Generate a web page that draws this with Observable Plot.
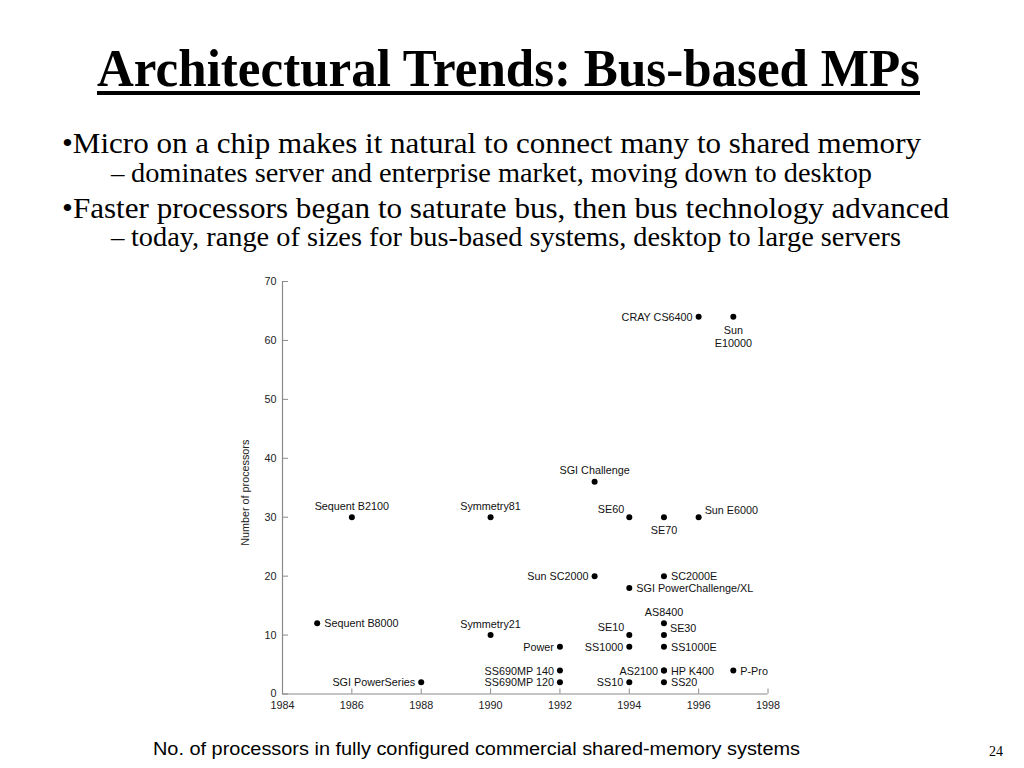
<!DOCTYPE html>
<html>
<head>
<meta charset="utf-8">
<script src="https://cdn.jsdelivr.net/npm/d3@7"></script>
<script src="https://cdn.jsdelivr.net/npm/@observablehq/plot@0.6"></script>
<style>
  html, body { margin: 0; padding: 0; background: #fff; }
  #page { position: relative; width: 1024px; height: 768px; overflow: hidden; background: #fff; }
  #overlay { position: absolute; left: 0; top: 0; }
  #chart { position: absolute; left: 0; top: 270px; }
  .serif { font-family: 'Liberation Serif', 'Times New Roman', Times, serif; }
  .sans { font-family: 'Liberation Sans', Arial, Helvetica, sans-serif; }
</style>
</head>
<body>
<div id="page">
  <svg id="overlay" width="1024" height="768" xmlns="http://www.w3.org/2000/svg">
    <text class="serif" x="97" y="86" font-weight="bold" font-size="52" textLength="823" lengthAdjust="spacingAndGlyphs">Architectural Trends: Bus-based MPs</text>
    <rect x="97" y="91" width="823" height="4" fill="#000"></rect>
    <text class="serif" x="62" y="152.5" font-size="30" textLength="859" lengthAdjust="spacingAndGlyphs">•Micro on a chip makes it natural to connect many to shared memory</text>
    <text class="serif" x="111" y="182" font-size="27">–</text>
    <text class="serif" x="131" y="182" font-size="27" textLength="741" lengthAdjust="spacingAndGlyphs">dominates server and enterprise market, moving down to desktop</text>
    <text class="serif" x="62" y="218" font-size="30" textLength="887" lengthAdjust="spacingAndGlyphs">•Faster processors began to saturate bus, then bus technology advanced</text>
    <text class="serif" x="111" y="246" font-size="27">–</text>
    <text class="serif" x="131" y="246" font-size="27" textLength="770" lengthAdjust="spacingAndGlyphs">today, range of sizes for bus-based systems, desktop to large servers</text>
    <text class="sans" x="153" y="755" font-size="18" textLength="647" lengthAdjust="spacingAndGlyphs">No. of processors in fully configured commercial shared-memory systems</text>
    <text class="serif" x="989" y="756" font-size="14">24</text>
  </svg>
  <div id="chart"></div>
</div>
<script>
// ---- data ----
const systems = ["CRAY CS6400","Sun E10000","SGI Challenge","Sequent B2100","Symmetry81","SE60","SE70","Sun E6000","Sun SC2000","SC2000E","SGI PowerChallenge/XL","Sequent B8000","Symmetry21","AS8400","SE10","SE30","Power","SS1000","SS1000E","SS690MP 140","AS2100","HP K400","P-Pro","SGI PowerSeries","SS690MP 120","SS10","SS20"];
const years = [1996,1997,1993,1986,1990,1994,1995,1996,1993,1995,1994,1985,1990,1995,1994,1995,1992,1994,1995,1992,1995,1995,1997,1988,1992,1994,1995];
const processors = [64,64,36,30,30,30,30,30,20,20,18,12,10,12,10,10,8,8,8,4,4,4,4,2,2,2,2];
const labelSide = ["left","below","above","above","above","upper-left","below","upper-right","left","right","right","right","above","above","upper-left","upper-right","left","left","right","left","left","right","right","left","left","left","right"];
const xTicks = [1984,1986,1988,1990,1992,1994,1996,1998];
const yTicks = [0,10,20,30,40,50,60,70];
const yLabel = "Number of processors";

const table = systems.map((name, i) => ({name, year: years[i], procs: processors[i], side: labelSide[i]}));

const font = "'Liberation Sans', Arial, Helvetica, sans-serif";
const fs = 10.8;
const axisGrey = "#8a8a8a";

const side = s => d => d.side === s;
const labelText = d => d.side === "below" ? d.name.replace(" ", "\n") : d.name;

const common = {x: "year", y: "procs", text: labelText, fontSize: fs, fill: "#111", lineHeight: 1.2};

const chart = Plot.plot({
  width: 1024,
  height: 460,
  marginLeft: 282,
  marginRight: 256.5,
  marginTop: 11,
  marginBottom: 36.5,
  style: {fontFamily: font, fontSize: fs + "px", background: "transparent", overflow: "visible"},
  x: {domain: [1984, 1998]},
  y: {domain: [0, 70]},
  marks: [
    Plot.ruleX([1984], {stroke: axisGrey, strokeWidth: 1.2}),
    Plot.ruleY([0], {stroke: axisGrey, strokeWidth: 1.2}),
    Plot.axisX({ticks: xTicks, tickFormat: d => String(d), tickSize: -5, tickPadding: 12.5, stroke: axisGrey, fill: "#222", fontSize: fs, label: null}),
    Plot.axisY({ticks: yTicks, tickSize: -6, tickPadding: 12, stroke: axisGrey, fill: "#222", fontSize: fs, label: null}),
    Plot.text([yLabel], {frameAnchor: "left", textAnchor: "middle", rotate: -90, dx: -37, dy: 5, fontSize: fs, fill: "#222"}),
    Plot.dot(table, {x: "year", y: "procs", r: 3, fill: "#000"}),
    Plot.text(table, {...common, filter: side("left"), textAnchor: "end", dx: -6, lineAnchor: "middle"}),
    Plot.text(table, {...common, filter: side("right"), textAnchor: "start", dx: 7, lineAnchor: "middle"}),
    Plot.text(table, {...common, filter: side("above"), textAnchor: "middle", dy: -7.5, lineAnchor: "bottom"}),
    Plot.text(table, {...common, filter: side("below"), textAnchor: "middle", dy: 8, lineAnchor: "top"}),
    Plot.text(table, {...common, filter: side("upper-left"), textAnchor: "end", dx: -5, dy: -8, lineAnchor: "middle"}),
    Plot.text(table, {...common, filter: side("upper-right"), textAnchor: "start", dx: 6, dy: -7, lineAnchor: "middle"})
  ]
});
document.getElementById("chart").appendChild(chart);
</script>
</body>
</html>
